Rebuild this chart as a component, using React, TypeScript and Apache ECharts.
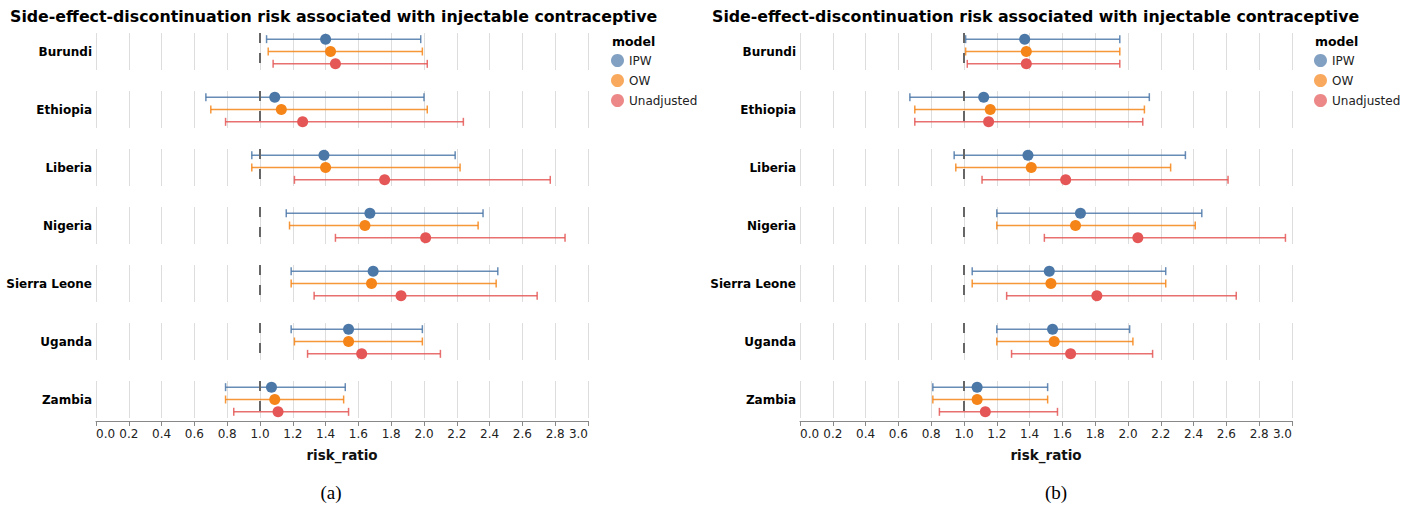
import React, { useEffect, useRef } from 'react';
import * as echarts from 'echarts';

const titleText = 'Side-effect-discontinuation risk associated with injectable contraceptive';
const countries = ['Burundi', 'Ethiopia', 'Liberia', 'Nigeria', 'Sierra Leone', 'Uganda', 'Zambia'];
const models = ['IPW', 'OW', 'Unadjusted'];
const modelColors = ['#4c78a8', '#f58518', '#e45756'];
const captions = ['(a)', '(b)'];

// Panel (a): point estimates and confidence limits per country
const aIPW_rr = [1.40, 1.09, 1.39, 1.67, 1.69, 1.54, 1.07];
const aIPW_lo = [1.04, 0.67, 0.95, 1.16, 1.19, 1.19, 0.79];
const aIPW_hi = [1.98, 2.00, 2.19, 2.36, 2.45, 1.99, 1.52];
const aOW_rr = [1.43, 1.13, 1.40, 1.64, 1.68, 1.54, 1.09];
const aOW_lo = [1.05, 0.70, 0.95, 1.18, 1.19, 1.21, 0.79];
const aOW_hi = [1.99, 2.02, 2.22, 2.33, 2.44, 1.99, 1.51];
const aUn_rr = [1.46, 1.26, 1.76, 2.01, 1.86, 1.62, 1.11];
const aUn_lo = [1.08, 0.79, 1.21, 1.46, 1.33, 1.29, 0.84];
const aUn_hi = [2.02, 2.24, 2.77, 2.86, 2.69, 2.10, 1.54];

// Panel (b)
const bIPW_rr = [1.37, 1.12, 1.39, 1.71, 1.52, 1.54, 1.08];
const bIPW_lo = [1.01, 0.67, 0.94, 1.20, 1.05, 1.20, 0.81];
const bIPW_hi = [1.95, 2.13, 2.35, 2.45, 2.23, 2.01, 1.51];
const bOW_rr = [1.38, 1.16, 1.41, 1.68, 1.53, 1.55, 1.08];
const bOW_lo = [1.01, 0.70, 0.95, 1.20, 1.05, 1.20, 0.81];
const bOW_hi = [1.95, 2.10, 2.26, 2.41, 2.23, 2.03, 1.51];
const bUn_rr = [1.38, 1.15, 1.62, 2.06, 1.81, 1.65, 1.13];
const bUn_lo = [1.02, 0.70, 1.11, 1.49, 1.26, 1.29, 0.85];
const bUn_hi = [1.95, 2.09, 2.61, 2.96, 2.66, 2.15, 1.57];

const referenceValue = 1;
const xMin = 0;
const xMax = 3;
const xInterval = 0.2;

const FONT = '"DejaVu Sans", Verdana, sans-serif';

const panels = [
  { left: 96, titleLeft: 10, legendLeft: 611, captionX: 331,
    rr: [aIPW_rr, aOW_rr, aUn_rr], lo: [aIPW_lo, aOW_lo, aUn_lo], hi: [aIPW_hi, aOW_hi, aUn_hi] },
  { left: 800, titleLeft: 712, legendLeft: 1314, captionX: 1056,
    rr: [bIPW_rr, bOW_rr, bUn_rr], lo: [bIPW_lo, bOW_lo, bUn_lo], hi: [bIPW_hi, bOW_hi, bUn_hi] },
];

const PLOT_W = 492;
const TOP0 = 33;
const STEP = 58;
const FACET_H = 37;

function buildOption() {
  const grid: any[] = [];
  const xAxis: any[] = [];
  const yAxis: any[] = [];
  const series: any[] = [];
  const graphic: any[] = [];
  const nC = countries.length;

  panels.forEach((p, pi) => {
    countries.forEach((country, c) => {
      const idx = pi * nC + c;
      const last = c === nC - 1;
      const top = TOP0 + c * STEP;
      grid.push({ left: p.left, top, width: PLOT_W, height: FACET_H });
      xAxis.push({
        gridIndex: idx, type: 'value', min: xMin, max: xMax, interval: xInterval,
        offset: last ? 3 : 0,
        axisLine: { show: last, lineStyle: { color: '#888', width: 1 } },
        axisTick: { show: last, length: 5, lineStyle: { color: '#888' } },
        axisLabel: {
          show: last, formatter: (v: number) => v.toFixed(1), fontSize: 12, color: '#222',
          fontFamily: FONT, margin: 7, showMinLabel: true, showMaxLabel: true,
          alignMinLabel: 'left', alignMaxLabel: 'right',
        },
        splitLine: { show: true, lineStyle: { color: '#dddddd', width: 1 } },
        name: last ? 'risk_ratio' : '', nameLocation: 'middle', nameGap: 27,
        nameTextStyle: { fontWeight: 'bold', fontSize: 13.5, color: '#111', fontFamily: FONT },
      });
      yAxis.push({ gridIndex: idx, type: 'category', data: models, inverse: true, show: false });

      series.push({
        type: 'line', xAxisIndex: idx, yAxisIndex: idx, data: [], silent: true, z: 1,
        markLine: {
          silent: true, symbol: 'none', label: { show: false },
          lineStyle: { color: '#666', width: 2, type: [10, 10] },
          data: [{ xAxis: referenceValue }],
        },
      });

      series.push({
        type: 'custom', xAxisIndex: idx, yAxisIndex: idx, z: 2, silent: true,
        data: models.map((m, k) => [p.lo[k][c], p.hi[k][c], k]),
        encode: { x: [0, 1], y: 2 },
        renderItem: (params: any, api: any) => {
          const k = api.value(2);
          const a = api.coord([api.value(0), k]);
          const b = api.coord([api.value(1), k]);
          const h = 4;
          const style = { stroke: modelColors[k], lineWidth: 1.5, opacity: 0.85 };
          return {
            type: 'group',
            children: [
              { type: 'line', shape: { x1: a[0], y1: a[1], x2: b[0], y2: b[1] }, style },
              { type: 'line', shape: { x1: a[0], y1: a[1] - h, x2: a[0], y2: a[1] + h }, style },
              { type: 'line', shape: { x1: b[0], y1: b[1] - h, x2: b[0], y2: b[1] + h }, style },
            ],
          };
        },
      });

      models.forEach((m, k) => {
        series.push({
          type: 'scatter', name: m, xAxisIndex: idx, yAxisIndex: idx, z: 3,
          symbol: 'circle', symbolSize: 11,
          itemStyle: { color: modelColors[k], opacity: 1 },
          data: [[p.rr[k][c], k]],
        });
      });

      graphic.push({
        type: 'text', x: p.left - 4, y: top + FACET_H / 2,
        style: { text: country, align: 'right', verticalAlign: 'middle',
          font: `bold 12px ${FONT}`, fill: '#000' },
      });
    });

    graphic.push({
      type: 'text', x: p.legendLeft + 1, y: 41,
      style: { text: 'model', align: 'left', verticalAlign: 'middle', font: `bold 12.5px ${FONT}`, fill: '#000' },
    });
    graphic.push({
      type: 'text', x: p.captionX, y: 492,
      style: { text: captions[pi], align: 'center', verticalAlign: 'middle',
        font: '19px "Liberation Serif", "Times New Roman", serif', fill: '#000' },
    });
  });

  return {
    animation: false,
    backgroundColor: '#ffffff',
    title: panels.map((p) => ({
      text: titleText, left: p.titleLeft, top: 8, padding: 0,
      textStyle: { fontWeight: 'bold', fontSize: 15.8, fontFamily: FONT, color: '#000' },
    })),
    legend: panels.map((p) => ({
      left: p.legendLeft, top: 54, orient: 'vertical', icon: 'circle',
      itemWidth: 13, itemHeight: 13, itemGap: 7, padding: 0,
      textStyle: { fontSize: 12, color: '#222', fontFamily: FONT, lineHeight: 13 },
      data: models.map((m) => ({ name: m, itemStyle: { opacity: 0.7 } })),
      selectedMode: false,
    })),
    grid, xAxis, yAxis, series, graphic,
  };
}

export default function App() {
  const ref = useRef<HTMLDivElement>(null);
  useEffect(() => {
    document.body.style.margin = '0';
    if (!ref.current) return;
    const chart = echarts.init(ref.current, undefined, { renderer: 'svg' });
    chart.setOption(buildOption() as any);
    return () => chart.dispose();
  }, []);
  return <div ref={ref} style={{ width: 1423, height: 508 }} />;
}
